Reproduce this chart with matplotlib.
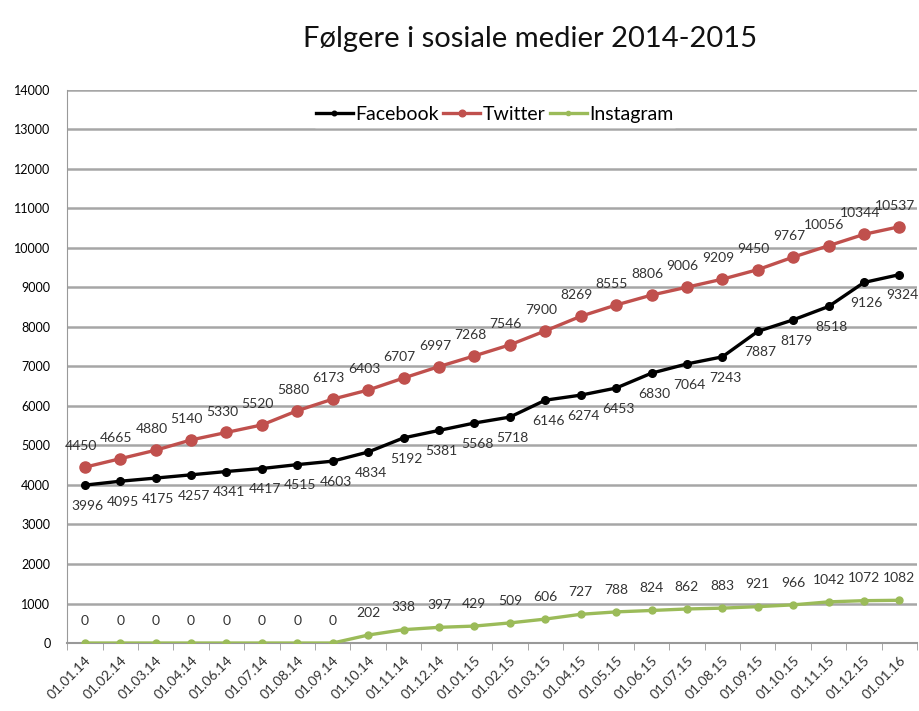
import matplotlib
matplotlib.use("Agg")
import matplotlib.pyplot as plt
import numpy as np

plt.rcParams["font.family"] = ["Lato", "DejaVu Sans"]

dates = ["01.01.14", "01.02.14", "01.03.14", "01.04.14", "01.06.14", "01.07.14",
         "01.08.14", "01.09.14", "01.10.14", "01.11.14", "01.12.14", "01.01.15",
         "01.02.15", "01.03.15", "01.04.15", "01.05.15", "01.06.15", "01.07.15",
         "01.08.15", "01.09.15", "01.10.15", "01.11.15", "01.12.15", "01.01.16"]
facebook = [3996, 4095, 4175, 4257, 4341, 4417, 4515, 4603, 4834, 5192, 5381, 5568,
            5718, 6146, 6274, 6453, 6830, 7064, 7243, 7887, 8179, 8518, 9126, 9324]
twitter = [4450, 4665, 4880, 5140, 5330, 5520, 5880, 6173, 6403, 6707, 6997, 7268,
           7546, 7900, 8269, 8555, 8806, 9006, 9209, 9450, 9767, 10056, 10344, 10537]
instagram = [0, 0, 0, 0, 0, 0, 0, 0, 202, 338, 397, 429,
             509, 606, 727, 788, 824, 862, 883, 921, 966, 1042, 1072, 1082]

fig = plt.figure(figsize=(9.19, 7.11), dpi=100)
ax = fig.add_axes([0.073, 0.0956, 0.925, 0.778])
x = np.arange(len(dates))

ax.plot(x, facebook, color="black", lw=2.4, marker="o", ms=5.5, label="Facebook", zorder=4)
ax.plot(x, twitter, color="#C0504D", lw=2.4, marker="o", ms=8, label="Twitter", zorder=3)
ax.plot(x, instagram, color="#9BBB59", lw=2.4, marker="o", ms=5, label="Instagram", zorder=3)

lab = dict(fontsize=10, color="#333333", ha="center", va="center")
for xi, v in zip(x, facebook):
    ax.annotate(str(v), (xi, v), xytext=(2, -15), textcoords="offset points", **lab)
for xi, v in zip(x, twitter):
    ax.annotate(str(v), (xi, v), xytext=(-3, 15), textcoords="offset points", **lab)
for xi, v in zip(x, instagram):
    ax.annotate(str(v), (xi, v), xytext=(0, 16), textcoords="offset points", **lab)

ax.set_xlim(-0.5, len(dates) - 0.5)
ax.set_ylim(0, 14000)
ax.set_yticks(range(0, 14001, 1000))
ax.tick_params(axis="y", length=0, labelsize=9, pad=12)
ax.set_xticks(x)
ax.set_xticklabels(dates, rotation=45, ha="right", rotation_mode="anchor", fontsize=10,
                   color="#333333")
ax.set_xticks(np.arange(-0.5, len(dates), 1), minor=True)
ax.tick_params(axis="x", which="major", length=0, pad=8)
ax.tick_params(axis="x", which="minor", length=5, color="#999999")
ax.grid(axis="y", color="#A6A6A6", lw=1.8)
ax.set_axisbelow(True)
for s in ["top", "right"]:
    ax.spines[s].set_visible(False)
ax.spines["left"].set_color("#999999")
ax.spines["bottom"].set_color("#999999")
ax.spines["bottom"].set_linewidth(1.5)

leg = ax.legend(loc="upper center", bbox_to_anchor=(0.503, 0.995), ncol=3, frameon=True,
                fontsize=14, handlelength=1.9, handletextpad=0.15, columnspacing=0.2,
                markerscale=0.6, borderpad=0.2)
leg.get_frame().set_edgecolor("white")
leg.get_frame().set_alpha(1)

fig.text(0.577, 0.945, "Følgere i sosiale medier 2014-2015", ha="center", va="center",
         fontsize=21, color="#111111")

fig.savefig("out.png", dpi=100)
